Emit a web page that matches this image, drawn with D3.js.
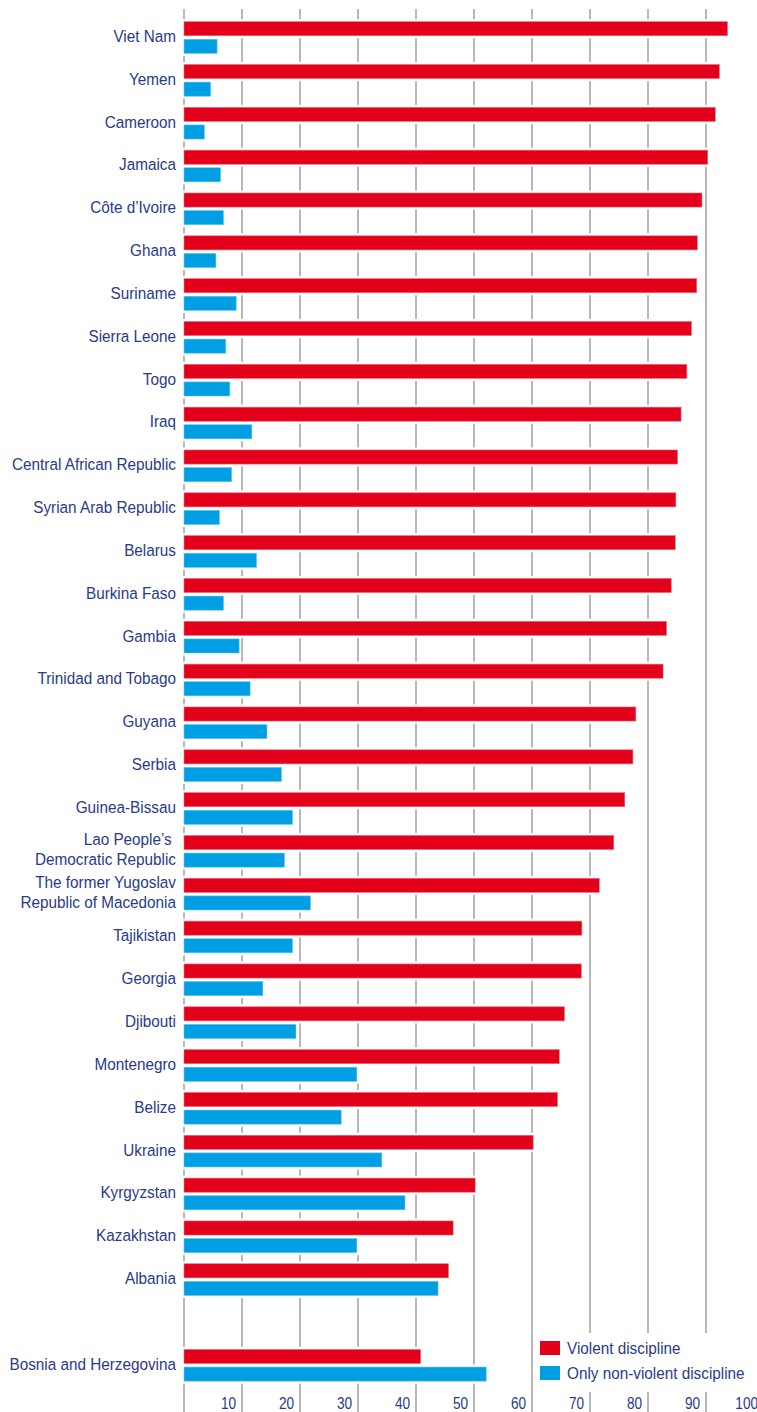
<!DOCTYPE html>
<html>
<head>
<meta charset="utf-8">
<script src="https://cdn.jsdelivr.net/npm/d3@7"></script>
<style>
  html, body { margin: 0; padding: 0; background: #fff; }
  svg { display: block; }
  text { font-family: "Liberation Sans", Arial, sans-serif; fill: #2a3a8a; }
</style>
</head>
<body>
<svg id="chart" width="757" height="1412"></svg>
<script>
// ---- data ----
const countries = [
  "Viet Nam", "Yemen", "Cameroon", "Jamaica", "Côte d’Ivoire", "Ghana", "Suriname",
  "Sierra Leone", "Togo", "Iraq", "Central African Republic", "Syrian Arab Republic",
  "Belarus", "Burkina Faso", "Gambia", "Trinidad and Tobago", "Guyana", "Serbia",
  "Guinea-Bissau", "Lao People’s \nDemocratic Republic",
  "The former Yugoslav\nRepublic of Macedonia", "Tajikistan", "Georgia", "Djibouti",
  "Montenegro", "Belize", "Ukraine", "Kyrgyzstan", "Kazakhstan", "Albania",
  "Bosnia and Herzegovina"
];
const violent = [
  93.7, 92.3, 91.6, 90.3, 89.3, 88.5, 88.4, 87.5, 86.7, 85.7, 85.1, 84.8, 84.7, 84.0,
  83.2, 82.6, 77.9, 77.4, 76.0, 74.1, 71.6, 68.6, 68.5, 65.6, 64.7, 64.4, 60.2, 50.2,
  46.4, 45.6, 40.8
];
const nonViolent = [
  5.7, 4.6, 3.5, 6.3, 6.8, 5.5, 9.0, 7.2, 7.9, 11.7, 8.2, 6.1, 12.5, 6.8, 9.5, 11.4,
  14.3, 16.8, 18.7, 17.3, 21.8, 18.7, 13.6, 19.3, 29.8, 27.1, 34.1, 38.1, 29.8, 43.8,
  52.1
];
const seriesKeys = ["violent", "nonViolent"];
const seriesNames = ["Violent discipline", "Only non-violent discipline"];
const seriesColors = ["#e2001a", "#009fe3"];
const tickValues = [0, 10, 20, 30, 40, 50, 60, 70, 80, 90, 100];
const tickLabels = ["", "10", "20", "30", "40", "50", "60", "70", "80", "90", "100"];
const gapAfter = "Albania";

// ---- build ----
const rows = countries.map((c, i) => ({ name: c, violent: violent[i], nonViolent: nonViolent[i] }));
const domain = [];
countries.forEach(c => { domain.push(c); if (c === gapAfter) domain.push("__gap__"); });

const svg = d3.select("#chart");
const W = 757, H = 1412;
const SX = 0.9; // horizontal condensing of text

const x = d3.scaleLinear().domain([0, 100]).range([184, 764]);
const y = d3.scaleBand().domain(domain).range([16.1, 1386.7]).paddingInner(0.26).paddingOuter(0.13);
const ySub = d3.scaleBand().domain(seriesKeys).range([0, y.bandwidth()]).paddingInner(0.2);
const color = d3.scaleOrdinal().domain(seriesKeys).range(seriesColors);

// gridlines
svg.append("g").selectAll("line").data(tickValues).join("line")
  .attr("x1", d => x(d)).attr("x2", d => x(d))
  .attr("y1", 9).attr("y2", H)
  .attr("stroke", "#b8b8b8").attr("stroke-width", 2);

// bars
const rowG = svg.append("g").selectAll("g").data(rows).join("g")
  .attr("transform", d => `translate(0,${y(d.name)})`);

const barData = d => seriesKeys.map(k => ({ key: k, value: d[k] }));
rowG.selectAll("rect.halo").data(barData).join("rect").attr("class", "halo")
  .attr("x", x(0) - 1).attr("y", d => ySub(d.key) - 2.5)
  .attr("width", d => x(d.value) - x(0) + 3)
  .attr("height", ySub.bandwidth() + 5)
  .attr("fill", "#fff");
rowG.selectAll("rect.bar").data(barData).join("rect").attr("class", "bar")
  .attr("x", x(0)).attr("y", d => ySub(d.key))
  .attr("width", d => x(d.value) - x(0))
  .attr("height", ySub.bandwidth())
  .attr("fill", d => color(d.key))
  .attr("stroke", d => d.key === "violent" ? "#f06a78" : "#5ec3ee")
  .attr("stroke-width", 0.6);

// category labels
const labels = svg.append("g").selectAll("text").data(rows).join("text")
  .attr("text-anchor", "end")
  .attr("font-size", 17)
  .style("white-space", "pre")
  .attr("transform", d => `translate(176,${y(d.name) + y.bandwidth() / 2}) scale(${SX},1)`);
labels.each(function(d) {
  const lines = d.name.split("\n");
  const t = d3.select(this);
  if (lines.length === 1) {
    t.append("tspan").attr("x", 0).attr("y", 4.4).text(lines[0]);
  } else {
    t.append("tspan").attr("x", 0).attr("y", -6).text(lines[0]);
    t.append("tspan").attr("x", 0).attr("y", 14).text(lines[1]);
  }
});

// x tick labels
svg.append("g").selectAll("text").data(tickValues).join("text")
  .attr("transform", d => `translate(${x(d) - 6},1409) scale(0.85,1)`)
  .attr("text-anchor", "end")
  .attr("font-size", 16)
  .text((d, i) => tickLabels[i]);

// legend
const lg = svg.append("g");
lg.append("rect").attr("x", 535).attr("y", 1333).attr("width", W - 535).attr("height", 59).attr("fill", "#fff");
const li = lg.selectAll("g").data(seriesKeys).join("g")
  .attr("transform", (d, i) => `translate(540,${1341 + i * 25})`);
li.append("rect").attr("width", 20).attr("height", 14).attr("fill", d => color(d));
li.append("text").attr("font-size", 17)
  .attr("transform", `translate(27,12.5) scale(${SX},1)`)
  .text((d, i) => seriesNames[i]);
</script>
</body>
</html>
